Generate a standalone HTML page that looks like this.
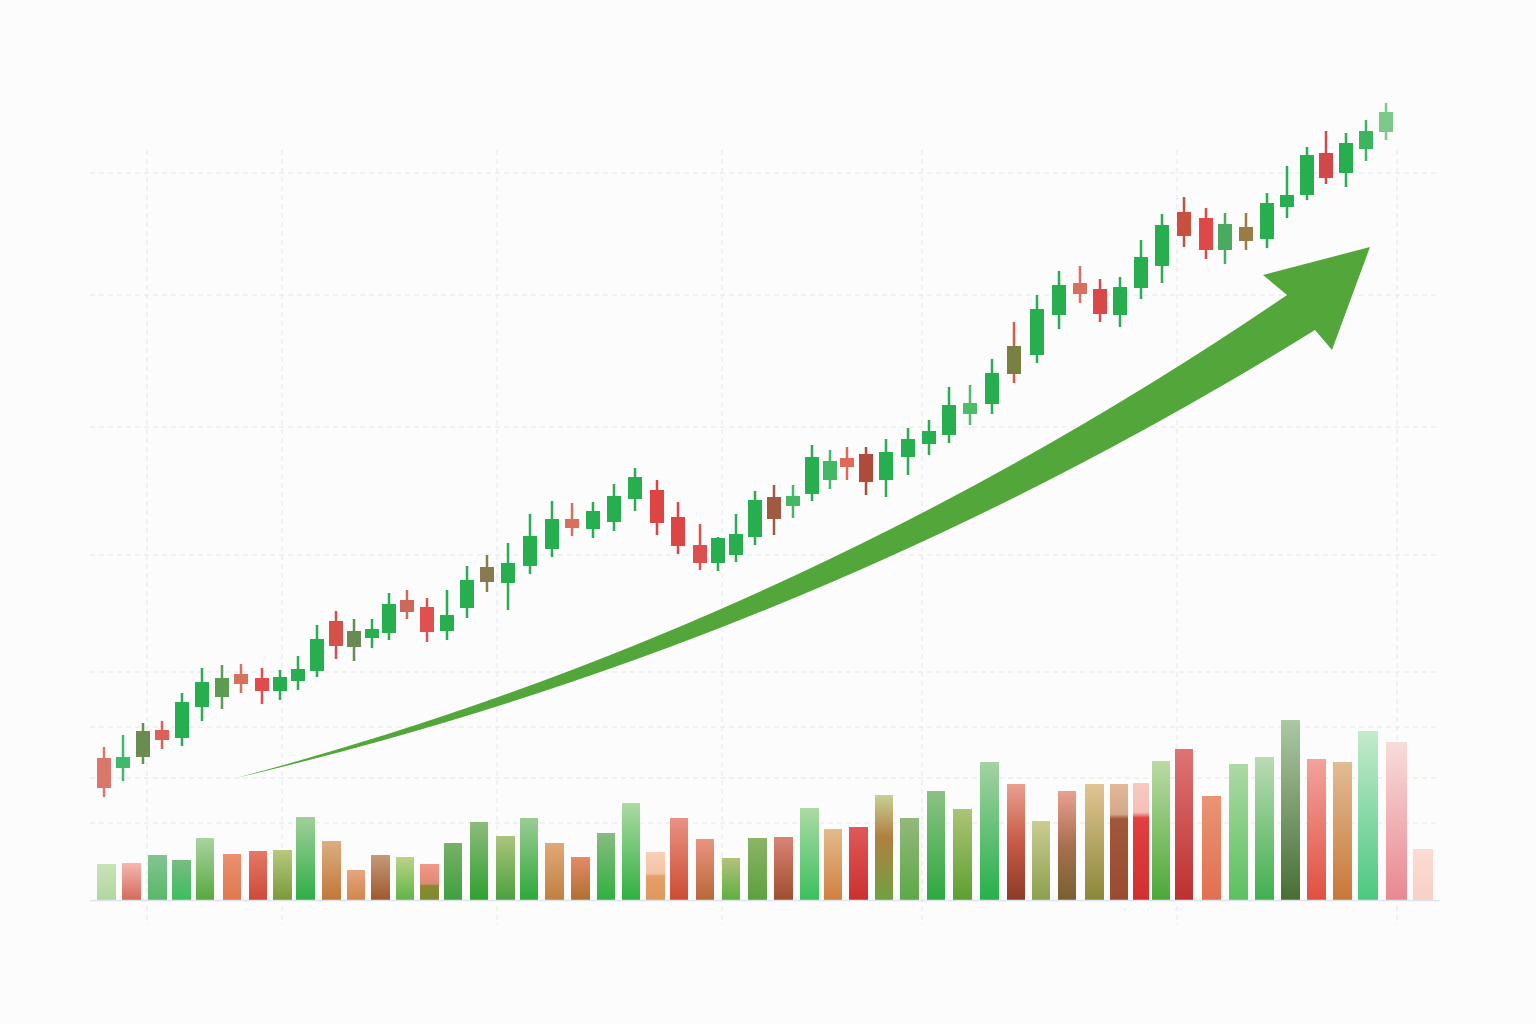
<!DOCTYPE html>
<html><head><meta charset="utf-8"><style>
html,body{margin:0;padding:0;background:#fcfcfd;}
svg{display:block;}
</style></head><body>
<svg width="1536" height="1024" viewBox="0 0 1536 1024" xmlns="http://www.w3.org/2000/svg">
<defs>
<linearGradient id="g1" x1="0" y1="0" x2="0" y2="1"><stop offset="0" stop-color="#c8e2b8"/><stop offset="1" stop-color="#b0d8a0"/></linearGradient>
<linearGradient id="g2" x1="0" y1="0" x2="0" y2="1"><stop offset="0" stop-color="#f4b8b0"/><stop offset="1" stop-color="#d46a5a"/></linearGradient>
<linearGradient id="g3" x1="0" y1="0" x2="0" y2="1"><stop offset="0" stop-color="#84c490"/><stop offset="1" stop-color="#58b86a"/></linearGradient>
<linearGradient id="g4" x1="0" y1="0" x2="0" y2="1"><stop offset="0" stop-color="#78bc84"/><stop offset="1" stop-color="#3cbe5c"/></linearGradient>
<linearGradient id="g5" x1="0" y1="0" x2="0" y2="1"><stop offset="0" stop-color="#a8d4a0"/><stop offset="1" stop-color="#58a840"/></linearGradient>
<linearGradient id="g6" x1="0" y1="0" x2="0" y2="1"><stop offset="0" stop-color="#eb9070"/><stop offset="1" stop-color="#e07850"/></linearGradient>
<linearGradient id="g7" x1="0" y1="0" x2="0" y2="1"><stop offset="0" stop-color="#e57868"/><stop offset="1" stop-color="#cc4a38"/></linearGradient>
<linearGradient id="g8" x1="0" y1="0" x2="0" y2="1"><stop offset="0" stop-color="#b8c880"/><stop offset="1" stop-color="#7a9a38"/></linearGradient>
<linearGradient id="g9" x1="0" y1="0" x2="0" y2="1"><stop offset="0" stop-color="#a0d098"/><stop offset="1" stop-color="#2eae48"/></linearGradient>
<linearGradient id="g10" x1="0" y1="0" x2="0" y2="1"><stop offset="0" stop-color="#dcae80"/><stop offset="1" stop-color="#c07838"/></linearGradient>
<linearGradient id="g11" x1="0" y1="0" x2="0" y2="1"><stop offset="0" stop-color="#e8a480"/><stop offset="1" stop-color="#d08848"/></linearGradient>
<linearGradient id="g12" x1="0" y1="0" x2="0" y2="1"><stop offset="0" stop-color="#c49a78"/><stop offset="1" stop-color="#a05830"/></linearGradient>
<linearGradient id="g13" x1="0" y1="0" x2="0" y2="1"><stop offset="0" stop-color="#bcd488"/><stop offset="1" stop-color="#60b448"/></linearGradient>
<linearGradient id="g14" x1="0" y1="0" x2="0" y2="1"><stop offset="0" stop-color="#f29a88"/><stop offset="0.55" stop-color="#e08878"/><stop offset="0.6" stop-color="#8a8a30"/><stop offset="1" stop-color="#808a30"/></linearGradient>
<linearGradient id="g15" x1="0" y1="0" x2="0" y2="1"><stop offset="0" stop-color="#78b068"/><stop offset="1" stop-color="#40a040"/></linearGradient>
<linearGradient id="g16" x1="0" y1="0" x2="0" y2="1"><stop offset="0" stop-color="#8cbc7c"/><stop offset="1" stop-color="#30a030"/></linearGradient>
<linearGradient id="g17" x1="0" y1="0" x2="0" y2="1"><stop offset="0" stop-color="#acc47c"/><stop offset="1" stop-color="#4ca040"/></linearGradient>
<linearGradient id="g18" x1="0" y1="0" x2="0" y2="1"><stop offset="0" stop-color="#9ccc94"/><stop offset="1" stop-color="#2ea838"/></linearGradient>
<linearGradient id="g19" x1="0" y1="0" x2="0" y2="1"><stop offset="0" stop-color="#e2a878"/><stop offset="1" stop-color="#c08040"/></linearGradient>
<linearGradient id="g20" x1="0" y1="0" x2="0" y2="1"><stop offset="0" stop-color="#e58a68"/><stop offset="1" stop-color="#b07030"/></linearGradient>
<linearGradient id="g21" x1="0" y1="0" x2="0" y2="1"><stop offset="0" stop-color="#88bc80"/><stop offset="1" stop-color="#30b040"/></linearGradient>
<linearGradient id="g22" x1="0" y1="0" x2="0" y2="1"><stop offset="0" stop-color="#acdaa4"/><stop offset="1" stop-color="#30b040"/></linearGradient>
<linearGradient id="g23" x1="0" y1="0" x2="0" y2="1"><stop offset="0" stop-color="#f8d0b8"/><stop offset="0.45" stop-color="#f4c4a4"/><stop offset="0.5" stop-color="#e4a06a"/><stop offset="1" stop-color="#dc985c"/></linearGradient>
<linearGradient id="g24" x1="0" y1="0" x2="0" y2="1"><stop offset="0" stop-color="#ea9282"/><stop offset="1" stop-color="#cc4c34"/></linearGradient>
<linearGradient id="g25" x1="0" y1="0" x2="0" y2="1"><stop offset="0" stop-color="#ea9480"/><stop offset="1" stop-color="#b86838"/></linearGradient>
<linearGradient id="g26" x1="0" y1="0" x2="0" y2="1"><stop offset="0" stop-color="#b4c27c"/><stop offset="1" stop-color="#5cb040"/></linearGradient>
<linearGradient id="g27" x1="0" y1="0" x2="0" y2="1"><stop offset="0" stop-color="#8cb468"/><stop offset="1" stop-color="#5ca040"/></linearGradient>
<linearGradient id="g28" x1="0" y1="0" x2="0" y2="1"><stop offset="0" stop-color="#da8474"/><stop offset="1" stop-color="#a04e30"/></linearGradient>
<linearGradient id="g29" x1="0" y1="0" x2="0" y2="1"><stop offset="0" stop-color="#acdaa4"/><stop offset="1" stop-color="#3cc060"/></linearGradient>
<linearGradient id="g30" x1="0" y1="0" x2="0" y2="1"><stop offset="0" stop-color="#e2bc8c"/><stop offset="1" stop-color="#d08040"/></linearGradient>
<linearGradient id="g31" x1="0" y1="0" x2="0" y2="1"><stop offset="0" stop-color="#e05858"/><stop offset="1" stop-color="#cc3030"/></linearGradient>
<linearGradient id="g32" x1="0" y1="0" x2="0" y2="1"><stop offset="0" stop-color="#c8d094"/><stop offset="0.4" stop-color="#b08040"/><stop offset="1" stop-color="#70a040"/></linearGradient>
<linearGradient id="g33" x1="0" y1="0" x2="0" y2="1"><stop offset="0" stop-color="#94b87c"/><stop offset="1" stop-color="#5ca848"/></linearGradient>
<linearGradient id="g34" x1="0" y1="0" x2="0" y2="1"><stop offset="0" stop-color="#8cc284"/><stop offset="1" stop-color="#2ea840"/></linearGradient>
<linearGradient id="g35" x1="0" y1="0" x2="0" y2="1"><stop offset="0" stop-color="#acc478"/><stop offset="1" stop-color="#5ca030"/></linearGradient>
<linearGradient id="g36" x1="0" y1="0" x2="0" y2="1"><stop offset="0" stop-color="#a4d2a4"/><stop offset="1" stop-color="#26b04a"/></linearGradient>
<linearGradient id="g37" x1="0" y1="0" x2="0" y2="1"><stop offset="0" stop-color="#eaa090"/><stop offset="0.5" stop-color="#c85a48"/><stop offset="1" stop-color="#8c3a28"/></linearGradient>
<linearGradient id="g38" x1="0" y1="0" x2="0" y2="1"><stop offset="0" stop-color="#cccc94"/><stop offset="1" stop-color="#8ca04c"/></linearGradient>
<linearGradient id="g39" x1="0" y1="0" x2="0" y2="1"><stop offset="0" stop-color="#eaa090"/><stop offset="0.5" stop-color="#a87050"/><stop offset="1" stop-color="#786030"/></linearGradient>
<linearGradient id="g40" x1="0" y1="0" x2="0" y2="1"><stop offset="0" stop-color="#e2c494"/><stop offset="1" stop-color="#8a8838"/></linearGradient>
<linearGradient id="g41" x1="0" y1="0" x2="0" y2="1"><stop offset="0" stop-color="#e2b898"/><stop offset="0.26" stop-color="#d4a888"/><stop offset="0.3" stop-color="#a05838"/><stop offset="1" stop-color="#984c30"/></linearGradient>
<linearGradient id="g42" x1="0" y1="0" x2="0" y2="1"><stop offset="0" stop-color="#f8cac2"/><stop offset="0.25" stop-color="#f4c0b8"/><stop offset="0.3" stop-color="#e04040"/><stop offset="1" stop-color="#d03030"/></linearGradient>
<linearGradient id="g43" x1="0" y1="0" x2="0" y2="1"><stop offset="0" stop-color="#bcdaa4"/><stop offset="1" stop-color="#4ca838"/></linearGradient>
<linearGradient id="g44" x1="0" y1="0" x2="0" y2="1"><stop offset="0" stop-color="#de7474"/><stop offset="1" stop-color="#be3030"/></linearGradient>
<linearGradient id="g45" x1="0" y1="0" x2="0" y2="1"><stop offset="0" stop-color="#ea9474"/><stop offset="1" stop-color="#e07050"/></linearGradient>
<linearGradient id="g46" x1="0" y1="0" x2="0" y2="1"><stop offset="0" stop-color="#acdaa4"/><stop offset="1" stop-color="#5cc060"/></linearGradient>
<linearGradient id="g47" x1="0" y1="0" x2="0" y2="1"><stop offset="0" stop-color="#bcdab4"/><stop offset="1" stop-color="#40b050"/></linearGradient>
<linearGradient id="g48" x1="0" y1="0" x2="0" y2="1"><stop offset="0" stop-color="#acc8a4"/><stop offset="1" stop-color="#486e34"/></linearGradient>
<linearGradient id="g49" x1="0" y1="0" x2="0" y2="1"><stop offset="0" stop-color="#f2a49c"/><stop offset="1" stop-color="#e05040"/></linearGradient>
<linearGradient id="g50" x1="0" y1="0" x2="0" y2="1"><stop offset="0" stop-color="#e2bc94"/><stop offset="1" stop-color="#c87838"/></linearGradient>
<linearGradient id="g51" x1="0" y1="0" x2="0" y2="1"><stop offset="0" stop-color="#c4eacc"/><stop offset="1" stop-color="#4cc880"/></linearGradient>
<linearGradient id="g52" x1="0" y1="0" x2="0" y2="1"><stop offset="0" stop-color="#f8dcdc"/><stop offset="1" stop-color="#e88890"/></linearGradient>
<linearGradient id="g53" x1="0" y1="0" x2="0" y2="1"><stop offset="0" stop-color="#fbdcd4"/><stop offset="1" stop-color="#f8d0c8"/></linearGradient>
</defs>

<g stroke="#e4e6ee" stroke-width="1" stroke-dasharray="5 4" fill="none">
<path d="M90 173H1440M90 295H1440M90 427H1440M90 555H1440M90 672H1440M90 727H1440M90 778H1440M90 823H1440"/>
<path d="M147 150V925M282 150V925M497 150V925M722 150V925M922 150V925M1177 150V925M1397 150V925"/>
</g>

<g>
<rect x="97" y="864" width="19" height="36" fill="url(#g1)"/>
<rect x="122" y="863" width="19" height="37" fill="url(#g2)"/>
<rect x="148" y="855" width="19" height="45" fill="url(#g3)"/>
<rect x="172" y="860" width="19" height="40" fill="url(#g4)"/>
<rect x="196" y="838" width="18" height="62" fill="url(#g5)"/>
<rect x="223" y="854" width="18" height="46" fill="url(#g6)"/>
<rect x="249" y="851" width="18" height="49" fill="url(#g7)"/>
<rect x="273" y="850" width="19" height="50" fill="url(#g8)"/>
<rect x="296" y="817" width="19" height="83" fill="url(#g9)"/>
<rect x="322" y="841" width="19" height="59" fill="url(#g10)"/>
<rect x="347" y="870" width="18" height="30" fill="url(#g11)"/>
<rect x="371" y="855" width="19" height="45" fill="url(#g12)"/>
<rect x="396" y="857" width="18" height="43" fill="url(#g13)"/>
<rect x="420" y="864" width="19" height="36" fill="url(#g14)"/>
<rect x="444" y="843" width="18" height="57" fill="url(#g15)"/>
<rect x="470" y="822" width="18" height="78" fill="url(#g16)"/>
<rect x="496" y="836" width="19" height="64" fill="url(#g17)"/>
<rect x="520" y="818" width="18" height="82" fill="url(#g18)"/>
<rect x="545" y="843" width="19" height="57" fill="url(#g19)"/>
<rect x="571" y="857" width="19" height="43" fill="url(#g20)"/>
<rect x="597" y="833" width="18" height="67" fill="url(#g21)"/>
<rect x="622" y="803" width="18" height="97" fill="url(#g22)"/>
<rect x="646" y="852" width="19" height="48" fill="url(#g23)"/>
<rect x="670" y="818" width="18" height="82" fill="url(#g24)"/>
<rect x="696" y="839" width="18" height="61" fill="url(#g25)"/>
<rect x="722" y="858" width="18" height="42" fill="url(#g26)"/>
<rect x="748" y="838" width="19" height="62" fill="url(#g27)"/>
<rect x="774" y="837" width="19" height="63" fill="url(#g28)"/>
<rect x="800" y="808" width="19" height="92" fill="url(#g29)"/>
<rect x="824" y="829" width="18" height="71" fill="url(#g30)"/>
<rect x="849" y="827" width="19" height="73" fill="url(#g31)"/>
<rect x="875" y="795" width="18" height="105" fill="url(#g32)"/>
<rect x="900" y="818" width="19" height="82" fill="url(#g33)"/>
<rect x="927" y="791" width="18" height="109" fill="url(#g34)"/>
<rect x="953" y="809" width="19" height="91" fill="url(#g35)"/>
<rect x="980" y="762" width="19" height="138" fill="url(#g36)"/>
<rect x="1007" y="784" width="18" height="116" fill="url(#g37)"/>
<rect x="1032" y="821" width="18" height="79" fill="url(#g38)"/>
<rect x="1058" y="791" width="18" height="109" fill="url(#g39)"/>
<rect x="1085" y="784" width="19" height="116" fill="url(#g40)"/>
<rect x="1110" y="784" width="18" height="116" fill="url(#g41)"/>
<rect x="1133" y="783" width="16" height="117" fill="url(#g42)"/>
<rect x="1152" y="761" width="18" height="139" fill="url(#g43)"/>
<rect x="1175" y="749" width="18" height="151" fill="url(#g44)"/>
<rect x="1202" y="796" width="19" height="104" fill="url(#g45)"/>
<rect x="1229" y="764" width="19" height="136" fill="url(#g46)"/>
<rect x="1255" y="757" width="19" height="143" fill="url(#g47)"/>
<rect x="1281" y="720" width="19" height="180" fill="url(#g48)"/>
<rect x="1307" y="759" width="19" height="141" fill="url(#g49)"/>
<rect x="1333" y="762" width="19" height="138" fill="url(#g50)"/>
<rect x="1358" y="731" width="20" height="169" fill="url(#g51)"/>
<rect x="1386" y="742" width="21" height="158" fill="url(#g52)"/>
<rect x="1413" y="849" width="20" height="51" fill="url(#g53)"/>
</g>
<path d="M90 900.5H1440" stroke="#dde3ea" stroke-width="1.5"/>

<path d="M236 778 Q795 630 1287 295 L1263 275 L1370 247 L1332 350 L1315 330 Q808 644 236 778 Z" fill="#53a73a"/>

<g stroke-width="2.5">
<g fill="#d9786a" stroke="#d9786a"><path d="M104 747V797"/><rect x="97" y="758" width="14" height="30" stroke="none"/></g>
<g fill="#3dbb6a" stroke="#3dbb6a"><path d="M123 735V781"/><rect x="116" y="757" width="14" height="11" stroke="none"/></g>
<g fill="#6a8c50" stroke="#6a8c50"><path d="M143 723V764"/><rect x="136" y="731" width="14" height="26" stroke="none"/></g>
<g fill="#dd6058" stroke="#dd6058"><path d="M162 721V749"/><rect x="155" y="730" width="14" height="10" stroke="none"/></g>
<g fill="#27ae4f" stroke="#27ae4f"><path d="M182 693V746"/><rect x="175" y="702" width="14" height="36" stroke="none"/></g>
<g fill="#27ae4f" stroke="#27ae4f"><path d="M202 668V721"/><rect x="195" y="682" width="14" height="25" stroke="none"/></g>
<g fill="#5c9c52" stroke="#5c9c52"><path d="M222 665V709"/><rect x="215" y="678" width="14" height="19" stroke="none"/></g>
<g fill="#d8705e" stroke="#d8705e"><path d="M241 664V693"/><rect x="234" y="674" width="14" height="10" stroke="none"/></g>
<g fill="#e04c4c" stroke="#e04c4c"><path d="M262 668V704"/><rect x="255" y="678" width="14" height="13" stroke="none"/></g>
<g fill="#27ae4f" stroke="#27ae4f"><path d="M280 670V700"/><rect x="273" y="677" width="14" height="14" stroke="none"/></g>
<g fill="#27ae4f" stroke="#27ae4f"><path d="M298 656V690"/><rect x="291" y="669" width="14" height="12" stroke="none"/></g>
<g fill="#27ae4f" stroke="#27ae4f"><path d="M317 625V677"/><rect x="310" y="639" width="14" height="32" stroke="none"/></g>
<g fill="#d45048" stroke="#d45048"><path d="M336 611V659"/><rect x="329" y="621" width="14" height="25" stroke="none"/></g>
<g fill="#6a8a55" stroke="#6a8a55"><path d="M354 619V661"/><rect x="347" y="631" width="14" height="16" stroke="none"/></g>
<g fill="#27ae4f" stroke="#27ae4f"><path d="M372 619V648"/><rect x="365" y="629" width="14" height="9" stroke="none"/></g>
<g fill="#27ae4f" stroke="#27ae4f"><path d="M389 593V640"/><rect x="382" y="604" width="14" height="29" stroke="none"/></g>
<g fill="#cc6a5a" stroke="#cc6a5a"><path d="M407 590V619"/><rect x="400" y="600" width="14" height="12" stroke="none"/></g>
<g fill="#e05050" stroke="#e05050"><path d="M427 598V642"/><rect x="420" y="607" width="14" height="25" stroke="none"/></g>
<g fill="#27ae4f" stroke="#27ae4f"><path d="M447 590V640"/><rect x="440" y="615" width="14" height="16" stroke="none"/></g>
<g fill="#27ae4f" stroke="#27ae4f"><path d="M467 566V618"/><rect x="460" y="580" width="14" height="28" stroke="none"/></g>
<g fill="#8a7a50" stroke="#8a7a50"><path d="M487 555V592"/><rect x="480" y="567" width="14" height="15" stroke="none"/></g>
<g fill="#27ae4f" stroke="#27ae4f"><path d="M508 543V610"/><rect x="501" y="563" width="14" height="20" stroke="none"/></g>
<g fill="#27ae4f" stroke="#27ae4f"><path d="M530 514V574"/><rect x="523" y="536" width="14" height="30" stroke="none"/></g>
<g fill="#27ae4f" stroke="#27ae4f"><path d="M552 501V557"/><rect x="545" y="519" width="14" height="30" stroke="none"/></g>
<g fill="#d8705e" stroke="#d8705e"><path d="M572 503V536"/><rect x="565" y="519" width="14" height="9" stroke="none"/></g>
<g fill="#27ae4f" stroke="#27ae4f"><path d="M593 502V538"/><rect x="586" y="511" width="14" height="18" stroke="none"/></g>
<g fill="#27ae4f" stroke="#27ae4f"><path d="M614 484V531"/><rect x="607" y="496" width="14" height="26" stroke="none"/></g>
<g fill="#27ae4f" stroke="#27ae4f"><path d="M635 468V511"/><rect x="628" y="477" width="14" height="22" stroke="none"/></g>
<g fill="#dd4444" stroke="#dd4444"><path d="M657 480V535"/><rect x="650" y="490" width="14" height="33" stroke="none"/></g>
<g fill="#dd4444" stroke="#dd4444"><path d="M678 502V554"/><rect x="671" y="517" width="14" height="29" stroke="none"/></g>
<g fill="#dd5050" stroke="#dd5050"><path d="M700 524V570"/><rect x="693" y="545" width="14" height="18" stroke="none"/></g>
<g fill="#27ae4f" stroke="#27ae4f"><path d="M718 537V571"/><rect x="711" y="538" width="14" height="25" stroke="none"/></g>
<g fill="#27ae4f" stroke="#27ae4f"><path d="M736 514V562"/><rect x="729" y="534" width="14" height="21" stroke="none"/></g>
<g fill="#27ae4f" stroke="#27ae4f"><path d="M755 491V545"/><rect x="748" y="500" width="14" height="37" stroke="none"/></g>
<g fill="#a05a40" stroke="#a05a40"><path d="M774 485V535"/><rect x="767" y="497" width="14" height="22" stroke="none"/></g>
<g fill="#45b865" stroke="#45b865"><path d="M793 485V518"/><rect x="786" y="496" width="14" height="10" stroke="none"/></g>
<g fill="#27ae4f" stroke="#27ae4f"><path d="M812 445V501"/><rect x="805" y="457" width="14" height="37" stroke="none"/></g>
<g fill="#45b865" stroke="#45b865"><path d="M830 450V489"/><rect x="823" y="461" width="14" height="19" stroke="none"/></g>
<g fill="#e06a5a" stroke="#e06a5a"><path d="M847 447V480"/><rect x="840" y="458" width="14" height="9" stroke="none"/></g>
<g fill="#b04a3a" stroke="#b04a3a"><path d="M866 447V495"/><rect x="859" y="454" width="14" height="28" stroke="none"/></g>
<g fill="#27ae4f" stroke="#27ae4f"><path d="M886 439V497"/><rect x="879" y="452" width="14" height="28" stroke="none"/></g>
<g fill="#27ae4f" stroke="#27ae4f"><path d="M908 428V475"/><rect x="901" y="439" width="14" height="18" stroke="none"/></g>
<g fill="#27ae4f" stroke="#27ae4f"><path d="M929 420V455"/><rect x="922" y="431" width="14" height="13" stroke="none"/></g>
<g fill="#27ae4f" stroke="#27ae4f"><path d="M949 387V443"/><rect x="942" y="405" width="14" height="30" stroke="none"/></g>
<g fill="#4cbc66" stroke="#4cbc66"><path d="M970 385V425"/><rect x="963" y="403" width="14" height="11" stroke="none"/></g>
<g fill="#27ae4f" stroke="#27ae4f"><path d="M992 359V414"/><rect x="985" y="373" width="14" height="31" stroke="none"/></g>
<g fill="#7a8040" stroke="#7a8040"><path d="M1014 322V383" stroke="#d85a48"/><rect x="1007" y="346" width="14" height="28" stroke="none"/></g>
<g fill="#27ae4f" stroke="#27ae4f"><path d="M1037 295V363"/><rect x="1030" y="309" width="14" height="46" stroke="none"/></g>
<g fill="#27ae4f" stroke="#27ae4f"><path d="M1059 271V329"/><rect x="1052" y="285" width="14" height="30" stroke="none"/></g>
<g fill="#d8705e" stroke="#d8705e"><path d="M1080 266V303"/><rect x="1073" y="283" width="14" height="11" stroke="none"/></g>
<g fill="#d84848" stroke="#d84848"><path d="M1100 279V322"/><rect x="1093" y="289" width="14" height="25" stroke="none"/></g>
<g fill="#27ae4f" stroke="#27ae4f"><path d="M1120 277V327"/><rect x="1113" y="287" width="14" height="28" stroke="none"/></g>
<g fill="#27ae4f" stroke="#27ae4f"><path d="M1141 240V299"/><rect x="1134" y="257" width="14" height="31" stroke="none"/></g>
<g fill="#27ae4f" stroke="#27ae4f"><path d="M1162 214V283"/><rect x="1155" y="225" width="14" height="41" stroke="none"/></g>
<g fill="#c85040" stroke="#c85040"><path d="M1184 197V247"/><rect x="1177" y="212" width="14" height="24" stroke="none"/></g>
<g fill="#dd4848" stroke="#dd4848"><path d="M1206 208V259"/><rect x="1199" y="218" width="14" height="32" stroke="none"/></g>
<g fill="#4aaa60" stroke="#4aaa60"><path d="M1225 213V264"/><rect x="1218" y="224" width="14" height="26" stroke="none"/></g>
<g fill="#9a7a45" stroke="#9a7a45"><path d="M1246 213V250"/><rect x="1239" y="227" width="14" height="14" stroke="none"/></g>
<g fill="#27ae4f" stroke="#27ae4f"><path d="M1267 193V248"/><rect x="1260" y="203" width="14" height="36" stroke="none"/></g>
<g fill="#27ae4f" stroke="#27ae4f"><path d="M1287 166V218"/><rect x="1280" y="195" width="14" height="12" stroke="none"/></g>
<g fill="#27ae4f" stroke="#27ae4f"><path d="M1307 147V200"/><rect x="1300" y="155" width="14" height="40" stroke="none"/></g>
<g fill="#d04848" stroke="#d04848"><path d="M1326 131V184"/><rect x="1319" y="153" width="14" height="25" stroke="none"/></g>
<g fill="#27ae4f" stroke="#27ae4f"><path d="M1346 133V187"/><rect x="1339" y="143" width="14" height="30" stroke="none"/></g>
<g fill="#3db560" stroke="#3db560"><path d="M1366 120V161"/><rect x="1359" y="131" width="14" height="18" stroke="none"/></g>
<g fill="#7cc98a" stroke="#7cc98a"><path d="M1386 103V140"/><rect x="1379" y="112" width="14" height="20" stroke="none"/></g>
</g>
</svg>
</body></html>
